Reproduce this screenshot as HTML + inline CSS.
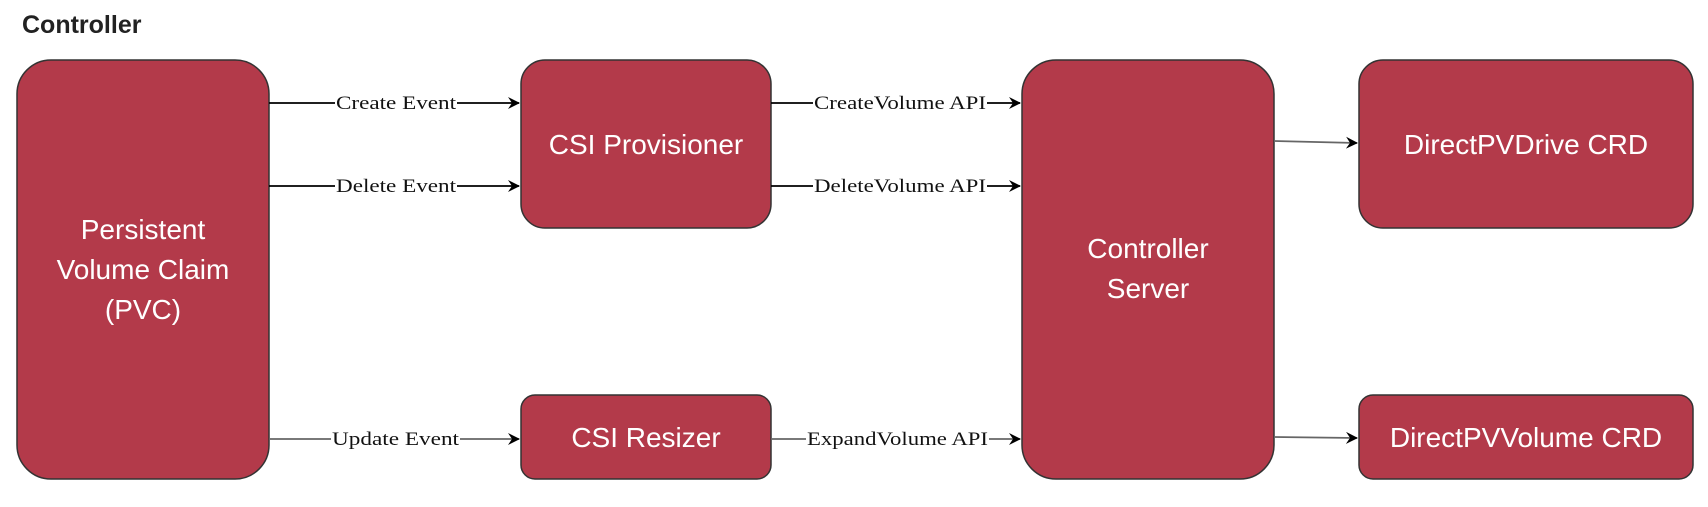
<!DOCTYPE html>
<html><head><meta charset="utf-8"><style>
body{margin:0;background:#fff;width:1708px;height:502px;overflow:hidden}
</style></head><body>
<svg width="1708" height="502" xmlns="http://www.w3.org/2000/svg">
<defs><marker id="a" markerWidth="12" markerHeight="12" refX="11" refY="6" orient="auto" markerUnits="userSpaceOnUse"><path d="M0,0 L12,6 L0,12 L4,6 Z" fill="#000"/></marker></defs>
<text x="22" y="33" font-family="Liberation Sans, sans-serif" font-weight="bold" font-size="25" fill="#222">Controller</text>
<g fill="#b33a4a" stroke="#333" stroke-width="1.5">
<rect x="17" y="60" width="252" height="419" rx="34"/>
<rect x="521" y="60" width="250" height="168" rx="24"/>
<rect x="521" y="395" width="250" height="84" rx="14"/>
<rect x="1022" y="60" width="252" height="419" rx="34"/>
<rect x="1359" y="60" width="334" height="168" rx="24"/>
<rect x="1359" y="395" width="334" height="84" rx="14"/>
</g>
<g stroke="#000" stroke-width="1.8" marker-end="url(#a)">
<line x1="269" y1="103" x2="519" y2="103"/>
<line x1="269" y1="186" x2="519" y2="186"/>
<line x1="269" y1="439" x2="519" y2="439" stroke="#666"/>
<line x1="771" y1="103" x2="1020" y2="103"/>
<line x1="771" y1="186" x2="1020" y2="186"/>
<line x1="771" y1="439" x2="1020" y2="439" stroke="#666"/>
<line x1="1274" y1="141" x2="1357" y2="143" stroke="#666"/>
<line x1="1274" y1="437" x2="1357" y2="438" stroke="#666"/>
</g>
<g font-family="Liberation Serif, serif" font-size="19" fill="#111" lengthAdjust="spacingAndGlyphs">
<rect x="335" y="92" width="122" height="22" fill="#fff"/><text x="336" y="109" textLength="120" lengthAdjust="spacingAndGlyphs">Create Event</text>
<rect x="335" y="175" width="122" height="22" fill="#fff"/><text x="336" y="192" textLength="120" lengthAdjust="spacingAndGlyphs">Delete Event</text>
<rect x="331" y="428" width="129" height="22" fill="#fff"/><text x="332" y="445" textLength="127" lengthAdjust="spacingAndGlyphs">Update Event</text>
<rect x="813" y="92" width="174" height="22" fill="#fff"/><text x="814" y="109" textLength="172" lengthAdjust="spacingAndGlyphs">CreateVolume API</text>
<rect x="813" y="175" width="174" height="22" fill="#fff"/><text x="814" y="192" textLength="172" lengthAdjust="spacingAndGlyphs">DeleteVolume API</text>
<rect x="806" y="428" width="183" height="22" fill="#fff"/><text x="807" y="445" textLength="181" lengthAdjust="spacingAndGlyphs">ExpandVolume API</text>
</g>
<g font-family="Liberation Sans, sans-serif" font-size="28" text-anchor="middle" fill="#fff">
<text x="143" y="239">Persistent</text>
<text x="143" y="279">Volume Claim</text>
<text x="143" y="319">(PVC)</text>
<text x="646" y="154">CSI Provisioner</text>
<text x="646" y="447">CSI Resizer</text>
<text x="1148" y="258">Controller</text>
<text x="1148" y="298">Server</text>
<text x="1526" y="154">DirectPVDrive CRD</text>
<text x="1526" y="447">DirectPVVolume CRD</text>
</g>
</svg>
</body></html>
